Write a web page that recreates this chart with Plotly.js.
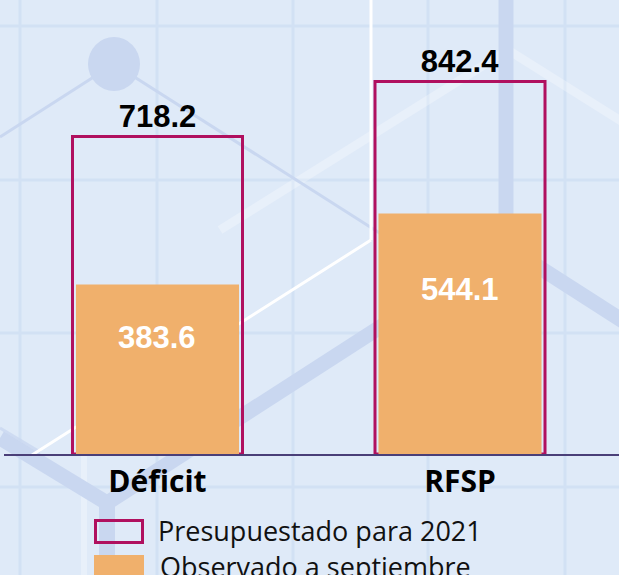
<!DOCTYPE html>
<html>
<head>
<meta charset="utf-8">
<script src="https://cdn.plot.ly/plotly-3.0.1.min.js"></script>
<style>html,body{margin:0;padding:0;background:#dfeaf8;}#chart{width:619px;height:575px;}</style>
</head>
<body>
<div id="chart"></div>
<script>
const categories = ["Déficit", "RFSP"];
const presupuestado = [718.2, 842.4];
const observado = [383.6, 544.1];
const legendLabels = ["Presupuestado para 2021", "Observado a septiembre"];

const W = 619, H = 575, L = 4, PH = 454;
const PW = W - L;
const px = x => (x - L) / PW;
const py = y => (PH - y) / PH;

const BG = '#dfeaf8', GRID = '#d2e1f4', BLUE = '#c9d7f0';
const CRIMSON = '#b0105f', ORANGE = '#f0b06c';

function seg(x0, y0, x1, y1, color, width) {
  return {type: 'line', xref: 'paper', yref: 'paper', layer: 'below',
    x0: px(x0), y0: py(y0), x1: px(x1), y1: py(y1),
    line: {color: color, width: width}};
}

const shapes = [];
// background grid
[20, 157, 293, 428, 565].forEach(x => shapes.push(seg(x, 0, x, H, GRID, 3)));
[26, 180, 333, 487].forEach(y => shapes.push(seg(0, y, W, y, GRID, 3)));
shapes.push(seg(84, 454, 84, H, 'rgba(255,255,255,0.3)', 6));
// faint white peak
shapes.push(seg(220, 230, 508, 50, 'rgba(255,255,255,0.28)', 9));
shapes.push(seg(508, 50, 640, 133, 'rgba(255,255,255,0.28)', 9));
// thick blue structure
shapes.push(seg(506, 0, 506, 246, BLUE, 15));
shapes.push(seg(506, 246, 107, 503, BLUE, 15));
shapes.push(seg(506, 246, 640, 332, BLUE, 15));
shapes.push(seg(0, 438, 107, 503, BLUE, 15));
shapes.push(seg(0, 428, 40, 452, 'rgba(201,215,240,0.8)', 3));
shapes.push(seg(107, 500, 107, H + 10, BLUE, 16));
// thin lines from circle
shapes.push(seg(114, 64, 0, 137, BLUE, 3));
shapes.push(seg(114, 64, 400, 246, BLUE, 3));
shapes.push({type: 'circle', xref: 'paper', yref: 'paper', layer: 'below',
  x0: px(88), x1: px(140), y0: py(91), y1: py(37),
  fillcolor: BLUE, line: {width: 0}});
// white lines
shapes.push(seg(371, 0, 371, 240, '#ffffff', 3));
shapes.push(seg(371, 240, 32, 455, '#ffffff', 3));
// legend swatches
shapes.push({type: 'rect', xref: 'paper', yref: 'paper', layer: 'above',
  x0: px(95.5), x1: px(142.5), y0: py(542.5), y1: py(520.5),
  fillcolor: 'rgba(0,0,0,0)', line: {color: CRIMSON, width: 3}});
shapes.push({type: 'rect', xref: 'paper', yref: 'paper', layer: 'above',
  x0: px(94), x1: px(144), y0: py(590), y1: py(555),
  fillcolor: ORANGE, line: {width: 0}});

const annotations = [];
categories.forEach((c, i) => {
  annotations.push({x: c, y: observado[i] * 0.686, xref: 'x', yref: 'y',
    text: observado[i].toFixed(1), showarrow: false,
    font: {family: 'Liberation Sans, Arial, sans-serif', size: 31, color: '#ffffff', weight: 'bold'}});
});
annotations.push({xref: 'paper', yref: 'paper', x: px(156), y: py(530), xanchor: 'left', yanchor: 'middle',
  text: legendLabels[0], showarrow: false,
  font: {family: 'Open Sans, sans-serif', size: 27, color: '#111111'}});
annotations.push({xref: 'paper', yref: 'paper', x: px(158), y: py(566), xanchor: 'left', yanchor: 'middle',
  text: legendLabels[1], showarrow: false,
  font: {family: 'Open Sans, sans-serif', size: 27, color: '#111111'}});

const traces = [
  {type: 'bar', x: categories, y: presupuestado, name: legendLabels[0],
    width: 0.562,
    marker: {color: 'rgba(0,0,0,0)', line: {color: CRIMSON, width: 3}},
    text: presupuestado.map(v => v.toFixed(1)), textposition: 'outside',
    textfont: {family: 'Liberation Sans, Arial, sans-serif', size: 31, color: '#000000', weight: 'bold'},
    cliponaxis: false, hoverinfo: 'skip', showlegend: false},
  {type: 'bar', x: categories, y: observado, name: legendLabels[1],
    width: 0.539,
    marker: {color: ORANGE, line: {width: 0}},
    hoverinfo: 'skip', showlegend: false}
];

const layout = {
  width: W, height: H,
  margin: {l: L, r: 0, t: 0, b: H - PH, pad: 0},
  paper_bgcolor: BG, plot_bgcolor: 'rgba(0,0,0,0)',
  barmode: 'overlay',
  showlegend: false,
  xaxis: {range: [-0.5074, 1.5256], showline: true, linecolor: '#4a3f78', linewidth: 1.5,
    ticks: '', showgrid: false, zeroline: false, fixedrange: true,
    tickfont: {family: 'Open Sans, sans-serif', size: 30, color: '#000000', weight: 'bold'}},
  yaxis: {range: [0, 1027], visible: false, fixedrange: true},
  shapes: shapes,
  annotations: annotations
};

Plotly.newPlot('chart', traces, layout, {displayModeBar: false, staticPlot: true});
</script>
</body>
</html>
